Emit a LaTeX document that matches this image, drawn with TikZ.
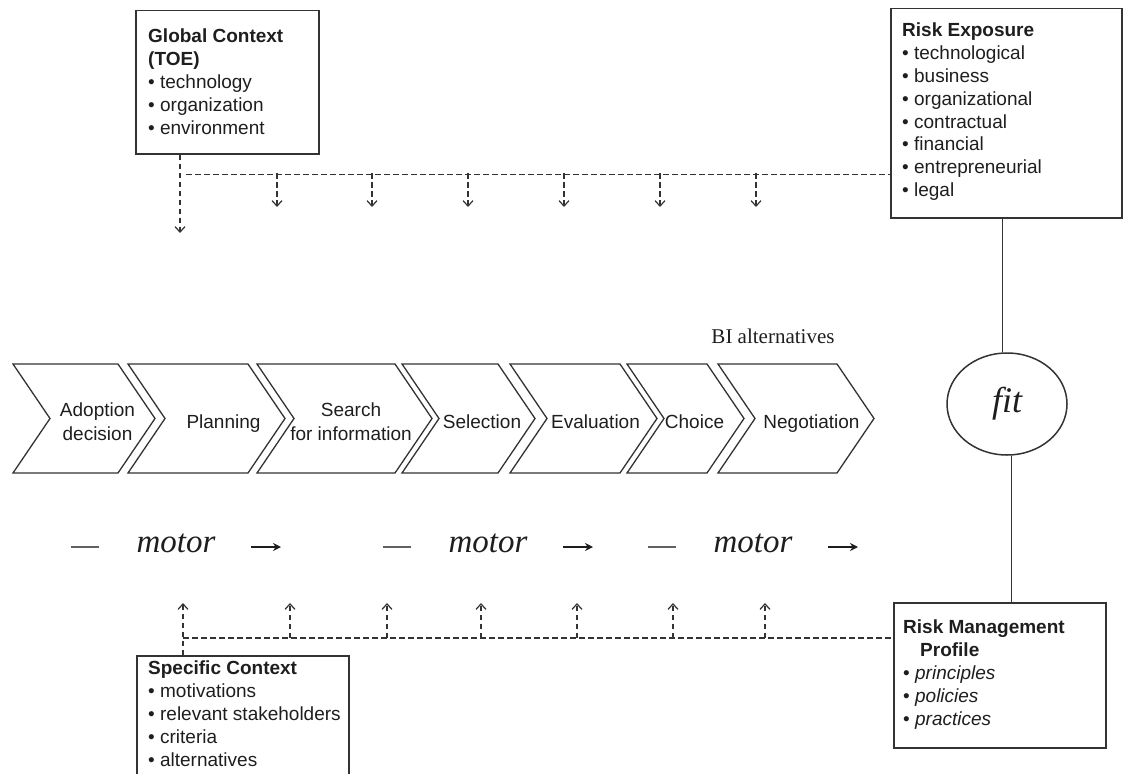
\documentclass[tikz,border=0pt]{standalone}
\usepackage{fontspec}
\setmainfont{Liberation Sans}
\newfontfamily\serifface{Liberation Serif}
\usetikzlibrary{arrows.meta,shapes.geometric,calc}
\definecolor{ink}{HTML}{1E1E1E}
\definecolor{edge}{HTML}{333333}

\begin{document}
\begin{tikzpicture}[x=1pt,y=-1pt,
  frame/.style={draw=edge, line width=1.5pt, inner sep=0pt, anchor=north west},
  boxtext/.style={anchor=north west, align=left, inner sep=0pt, text=ink,
                  font=\fontsize{19}{22.8}\selectfont},
  stagebox/.style={draw=edge, line width=1.3pt, line join=miter},
  stagetext/.style={align=center, inner sep=0pt, text=ink,
                    font=\fontsize{19}{24}\selectfont},
  flowline/.style={draw=edge, line width=1.1pt, dash pattern=on 5.5pt off 3.5pt},
  flow/.style={flowline, -{Straight Barb[length=5.5pt,width=10pt,line width=1.2pt]}},
  solidlink/.style={draw=edge, line width=1.5pt},
  motorword/.style={font=\serifface\itshape\fontsize{33}{36}\selectfont,
                    text=ink, inner sep=0pt, anchor=base},
]
\path[use as bounding box, clip] (0,0) rectangle (1123,773);

% ---- context and risk boxes ----
\node[frame, minimum width=183, minimum height=143] (gc) at (135,10) {};
\node[boxtext] (gct) at (148,29)
  {\textbf{Global Context}\\\textbf{(TOE)}\\• technology\\• organization\\• environment};

\node[frame, minimum width=231, minimum height=209] (re) at (890,8) {};
\node[boxtext] (ret) at (902,23)
  {\textbf{Risk Exposure}\\• technological\\• business\\• organizational\\• contractual\\• financial\\• entrepreneurial\\• legal};

\node[frame, minimum width=212, minimum height=145] (rm) at (893,602) {};
\node[boxtext] (rmt) at (903,620)
  {\textbf{Risk Management}\\\hspace*{17pt}\textbf{Profile}\\• \textit{principles}\\• \textit{policies}\\• \textit{practices}};

\node[frame, minimum width=212, minimum height=140] (sc) at (136,655) {};
\node[boxtext] (sct) at (148,661)
  {\textbf{Specific Context}\\• motivations\\• relevant stakeholders\\• criteria\\• alternatives};

% ---- fit ellipse and its links ----
\node[draw=edge, line width=1.5pt, ellipse, minimum width=120, minimum height=102,
      inner sep=0pt, text=ink, font=\serifface\itshape\fontsize{36}{38}\selectfont]
  (fit) at (1007,404) {fit};
\draw[solidlink] (fit.95) -- (re.south -| fit.95);
\draw[solidlink] (fit.-85) -- (rm.north -| fit.-85);

% ---- process chevrons ----
\foreach \l/\r in {13/118, 128/248, 257/395, 402/498, 510/620, 627/707, 718/837}
  \draw[stagebox] (\l,364) -- (\r,364) -- (\r+37,418.5) -- (\r,473)
                  -- (\l,473) -- (\l+37,418.5) -- cycle;

\node[stagetext] (s1) at (97.5,422) {Adoption\\decision};
\node[stagetext, anchor=base] (s2) at (223.5,428) {Planning};
\node[stagetext] (s3) at (351,422) {Search\\for information};
\node[stagetext, anchor=base] (s4) at (482,428) {Selection};
\node[stagetext, anchor=base] (s5) at (595.5,428) {Evaluation};
\node[stagetext, anchor=base] (s6) at (694.5,428) {Choice};
\node[stagetext, anchor=base] (s7) at (811.5,428) {Negotiation};

\node[font=\serifface\fontsize{21}{24}\selectfont, text=ink, anchor=base, inner sep=0pt]
  (bialt) at (773,343) {BI alternatives};

% ---- motor row ----
\foreach \x [count=\i] in {71,383,648} {
  \draw[line width=2pt, draw=ink!70] (\x,547) -- (\x+28,547);
  \node[motorword] (m\i) at (\x+105,552) {motor};
  \draw[line width=1.6pt, draw=ink, -{Stealth[length=8pt,width=8pt]}]
    (\x+180,547) -- (\x+210,547);
}

% ---- dashed influence lines from the global context ----
\coordinate (topbus) at ($(gc.south west)+(45,20)$);
\draw[flow] ($(gc.south west)+(45,0)$) -- (180,233);
\draw[flowline] ($(topbus)+(6,0)$) -- (topbus -| re.west);
\foreach \x in {277,372,468,564,660,756}
  \draw[flow] (\x,173) -- (\x,207);

% ---- dashed influence lines from the specific context ----
\coordinate (botbus) at ($(sc.north west)+(47,-17)$);
\draw[flow] ($(sc.north west)+(47,0)$) -- (183,603);
\draw[flowline] (botbus) -- (botbus -| rm.west);
\foreach \x in {290,387,481,577,673,765}
  \draw[flow] (\x,638) -- (\x,603);

\end{tikzpicture}
\end{document}
